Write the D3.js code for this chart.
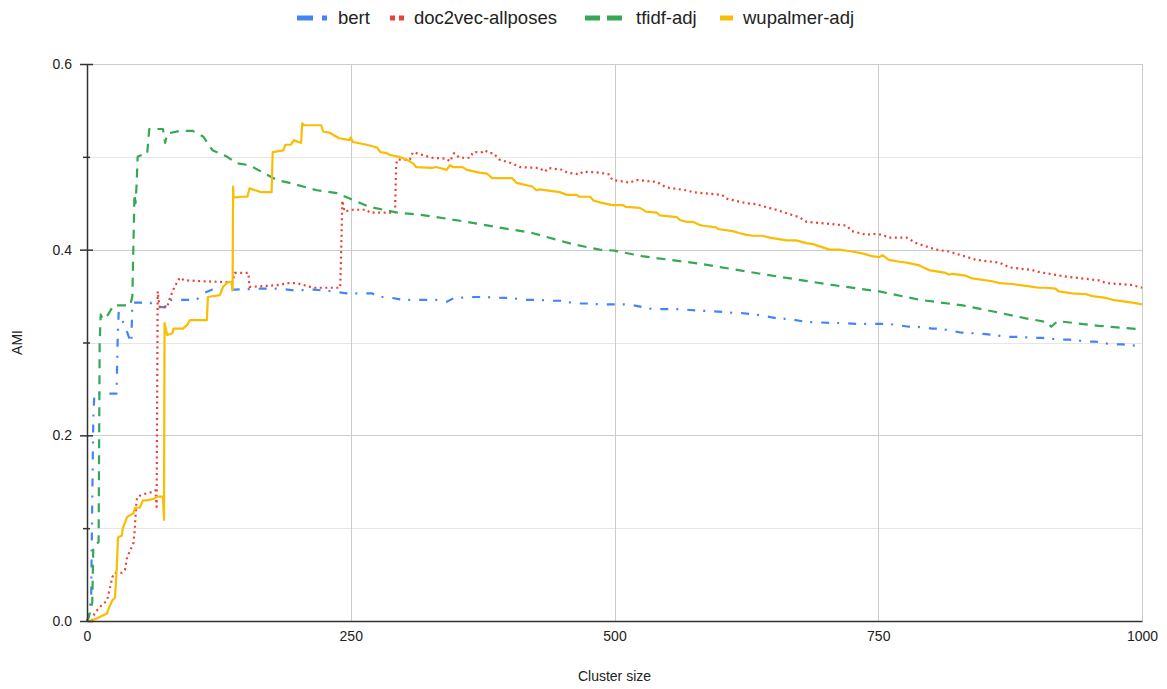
<!DOCTYPE html>
<html>
<head>
<meta charset="utf-8">
<script src="https://cdn.jsdelivr.net/npm/d3@7"></script>
<style>
  body { margin: 0; background: #fff; }
  svg { font-family: "Liberation Sans", Arial, sans-serif; }
</style>
</head>
<body>
<svg></svg>
<script>
const seriesNames = ["bert", "doc2vec-allposes", "tfidf-adj", "wupalmer-adj"];

const yTicks = [0, 0.1, 0.2, 0.3, 0.4, 0.5, 0.6];
const yLabels = ["0.0", "", "0.2", "", "0.4", "", "0.6"];
const xTicks = [0, 250, 500, 750, 1000];
const xLabels = ["0", "250", "500", "750", "1000"];

// [cluster size, AMI]
const bert = [
  [0, 0], [2, 0.005], [4, 0.03], [5, 0.13], [6, 0.22], [7, 0.245], [12, 0.245], [20, 0.245], [28, 0.245],
  [29, 0.3], [30, 0.332], [33, 0.325], [36, 0.318], [40, 0.305], [42, 0.3], [43, 0.343], [60, 0.343],
  [64, 0.338], [74, 0.338], [77, 0.346], [104, 0.346], [110, 0.353], [119, 0.357], [140, 0.357],
  [165, 0.358], [182, 0.358], [197, 0.356], [215, 0.357], [233, 0.355], [246, 0.353], [270, 0.353],
  [277, 0.349], [284, 0.349], [299, 0.346], [331, 0.346], [341, 0.344], [348, 0.348], [369, 0.349],
  [377, 0.349], [394, 0.348], [400, 0.348], [417, 0.346], [426, 0.346], [441, 0.345], [448, 0.345],
  [464, 0.342], [473, 0.342], [489, 0.341], [514, 0.341], [536, 0.336], [561, 0.336], [583, 0.334],
  [590, 0.334], [612, 0.332], [618, 0.332], [634, 0.33], [640, 0.329], [659, 0.325], [663, 0.326],
  [682, 0.322], [688, 0.322], [706, 0.321], [713, 0.321], [732, 0.32], [760, 0.32], [779, 0.317],
  [786, 0.317], [801, 0.315], [808, 0.315], [827, 0.311], [852, 0.309], [874, 0.306], [883, 0.306],
  [900, 0.305], [905, 0.305], [924, 0.303], [931, 0.303], [950, 0.301], [956, 0.301], [971, 0.298],
  [981, 0.298], [1000, 0.296]
];

const doc2vec = [
  [0, 0], [5, 0], [7, 0.008], [12, 0.015], [19, 0.022], [22, 0.037], [24, 0.047], [26, 0.052],
  [33, 0.052], [36, 0.055], [38, 0.069], [41, 0.076], [44, 0.084], [45, 0.095], [47, 0.13], [48, 0.134],
  [55, 0.137], [62, 0.139], [65, 0.141], [66, 0.123], [67, 0.355], [68, 0.345], [69, 0.338],
  [76, 0.338], [78, 0.346], [83, 0.36], [88, 0.37], [92, 0.367], [110, 0.366], [132, 0.365],
  [138, 0.365], [140, 0.375], [153, 0.375], [154, 0.36], [157, 0.36], [183, 0.362], [190, 0.364],
  [199, 0.364], [214, 0.359], [240, 0.359], [241, 0.4], [242, 0.453], [244, 0.441], [252, 0.443],
  [265, 0.443], [268, 0.44], [292, 0.44], [293, 0.491], [294, 0.497], [306, 0.497], [309, 0.505],
  [312, 0.504], [327, 0.499], [341, 0.498], [344, 0.495], [348, 0.504], [353, 0.499], [363, 0.499],
  [366, 0.505], [375, 0.505], [377, 0.507], [382, 0.504], [385, 0.504], [391, 0.497], [403, 0.493],
  [410, 0.489], [429, 0.488], [434, 0.484], [437, 0.488], [451, 0.486], [455, 0.483], [467, 0.481],
  [470, 0.484], [486, 0.483], [495, 0.481], [498, 0.475], [511, 0.473], [514, 0.472], [521, 0.475],
  [540, 0.473], [549, 0.467], [568, 0.464], [574, 0.462], [602, 0.459], [606, 0.455], [625, 0.45],
  [634, 0.449], [653, 0.443], [675, 0.435], [682, 0.43], [720, 0.426], [725, 0.42], [739, 0.416],
  [744, 0.417], [754, 0.416], [760, 0.413], [777, 0.413], [786, 0.407], [805, 0.4], [817, 0.398],
  [843, 0.389], [865, 0.386], [874, 0.381], [896, 0.378], [902, 0.376], [928, 0.371], [959, 0.367],
  [966, 0.364], [990, 0.362], [1000, 0.359]
];

const tfidf = [
  [0, 0], [3, 0.01], [5, 0.02], [6, 0.08], [11, 0.085], [12, 0.3], [13, 0.33], [15, 0.325],
  [20, 0.33], [25, 0.34], [41, 0.34], [43, 0.35], [45, 0.46], [46, 0.45], [47, 0.47], [48, 0.5],
  [52, 0.502], [57, 0.503], [59, 0.53], [72, 0.53], [74, 0.515], [76, 0.525], [88, 0.528],
  [100, 0.528], [110, 0.522], [119, 0.507], [133, 0.5], [142, 0.493], [154, 0.491], [167, 0.483],
  [180, 0.475], [192, 0.472], [218, 0.464], [237, 0.461], [249, 0.455], [268, 0.446], [294, 0.44],
  [320, 0.437], [360, 0.43], [390, 0.424], [422, 0.418], [460, 0.406], [486, 0.4], [500, 0.399],
  [526, 0.393], [580, 0.385], [644, 0.373], [706, 0.362], [751, 0.355], [789, 0.346], [830, 0.34],
  [865, 0.332], [890, 0.326], [910, 0.322], [914, 0.317], [920, 0.323], [959, 0.318], [1000, 0.314]
];

const wupalmer = [
  [0, 0], [6, 0.001], [19, 0.008], [20, 0.012], [24, 0.022], [26.5, 0.025], [28, 0.052], [29.4, 0.09],
  [33, 0.092], [34, 0.1], [38, 0.112], [41, 0.114], [44, 0.116], [45.5, 0.122], [50, 0.122],
  [53, 0.13], [57, 0.13], [64, 0.132], [66, 0.134], [72, 0.134], [73, 0.109], [73.5, 0.321],
  [76, 0.308], [81, 0.31], [82, 0.315], [91, 0.315], [95, 0.319], [97.5, 0.324], [113.6, 0.324],
  [114.6, 0.349], [126, 0.351], [129, 0.36], [133.5, 0.365], [137, 0.365], [138, 0.356], [138.5, 0.468],
  [139, 0.456], [146, 0.457], [152, 0.457], [154, 0.466], [165, 0.462], [175, 0.462], [176, 0.505],
  [186, 0.507], [188, 0.513], [193, 0.513], [196, 0.518], [203, 0.515], [204, 0.536], [206, 0.534],
  [222, 0.534], [224, 0.527], [230, 0.526], [239, 0.52], [249, 0.518], [250, 0.521], [252, 0.516],
  [265, 0.513], [275, 0.51], [278, 0.505], [284, 0.504], [287, 0.502], [296, 0.5], [303, 0.497],
  [309, 0.493], [312, 0.489], [327, 0.488], [331, 0.489], [341, 0.486], [344, 0.491], [347, 0.489],
  [356, 0.489], [360, 0.486], [372, 0.483], [379, 0.482], [384, 0.477], [403, 0.477], [407, 0.472],
  [422, 0.468], [426, 0.464], [429, 0.465], [448, 0.462], [455, 0.459], [464, 0.459], [467, 0.457],
  [477, 0.457], [480, 0.453], [486, 0.451], [498, 0.448], [508, 0.448], [511, 0.446], [524, 0.445],
  [530, 0.441], [540, 0.44], [543, 0.437], [559, 0.435], [562, 0.432], [568, 0.43], [574, 0.43],
  [580, 0.427], [583, 0.426], [596, 0.424], [599, 0.422], [612, 0.42], [618, 0.418], [625, 0.416],
  [631, 0.415], [640, 0.415], [647, 0.413], [663, 0.41], [672, 0.41], [682, 0.407], [688, 0.406],
  [704, 0.4], [713, 0.4], [725, 0.398], [735, 0.396], [744, 0.393], [751, 0.392], [754, 0.394],
  [760, 0.389], [770, 0.387], [777, 0.386], [789, 0.383], [798, 0.378], [814, 0.375], [817, 0.373],
  [820, 0.374], [833, 0.372], [839, 0.369], [858, 0.366], [865, 0.364], [877, 0.363], [890, 0.361],
  [902, 0.359], [909, 0.359], [918, 0.358], [921, 0.355], [934, 0.353], [947, 0.352], [953, 0.35],
  [966, 0.348], [972, 0.346], [991, 0.343], [1000, 0.341]
];

const seriesData = [bert, doc2vec, tfidf, wupalmer];
const colors = ["#4285f4", "#ea4335", "#34a853", "#fbbc04"];
const dashes = ["8,8,2,9", "2,3.5", "9,7", null];

const width = 1167;
const height = 689;
const margin = { left: 87, right: 25, top: 64, bottom: 68 };

let xScale;
let yScale;

const svg = d3.select("svg");

const drawCanvas = () => {
    svg.attr("width", width);
    svg.attr("height", height);
};

const generateScales = () => {
    xScale = d3.scaleLinear()
        .domain([0, 1000])
        .range([margin.left, width - margin.right]);
    yScale = d3.scaleLinear()
        .domain([0, 0.6])
        .range([height - margin.bottom, margin.top]);
};

//gridlines first so the series sit on top
const drawGrid = () => {
    const grid = svg.append("g").attr("class", "grid");
    grid.selectAll("line.h")
        .data(yTicks.slice(1))
        .enter()
        .append("line")
        .attr("x1", xScale(0))
        .attr("x2", xScale(1000))
        .attr("y1", (d) => Math.round(yScale(d)) + 0.5)
        .attr("y2", (d) => Math.round(yScale(d)) + 0.5)
        .attr("stroke", (d, i) => i % 2 === 1 ? "#cccccc" : "#e6e6e6")
        .attr("stroke-width", 1);
    grid.selectAll("line.v")
        .data(xTicks.slice(1))
        .enter()
        .append("line")
        .attr("x1", (d) => Math.round(xScale(d)) + 0.5)
        .attr("x2", (d) => Math.round(xScale(d)) + 0.5)
        .attr("y1", yScale(0.6))
        .attr("y2", yScale(0))
        .attr("stroke", "#cccccc")
        .attr("stroke-width", 1);
};

const generateAxes = () => {
    const xAxis = d3.axisBottom(xScale)
        .tickValues(xTicks)
        .tickFormat((d, i) => xLabels[i])
        .tickSize(0)
        .tickPadding(10);

    const yAxis = d3.axisLeft(yScale)
        .tickValues(yTicks)
        .tickFormat((d, i) => yLabels[i])
        .tickSize(0)
        .tickPadding(15);

    const gx = svg.append("g")
        .attr("id", "x-axis")
        .attr("transform", "translate(0, " + yScale(0) + ")")
        .call(xAxis);
    gx.select(".domain").attr("stroke", "#333").attr("stroke-width", 1.5);
    gx.selectAll("text").attr("font-size", 14).attr("fill", "#222");

    const gy = svg.append("g")
        .attr("id", "y-axis")
        .attr("transform", "translate(" + xScale(0) + ", 0)")
        .call(yAxis);
    gy.select(".domain").attr("stroke", "#333").attr("stroke-width", 1.5);
    gy.selectAll("text").attr("font-size", 14).attr("fill", "#222");
    //major ticks cross the axis, minor ones are shorter
    gy.selectAll(".tick line")
        .attr("x1", (d, i) => i % 2 === 0 ? -7 : -4)
        .attr("x2", (d, i) => i % 2 === 0 ? 6 : 3)
        .attr("stroke", "#333")
        .attr("stroke-width", 1.5);

    svg.append("text")
        .attr("transform", "translate(22, " + yScale(0.3) + ") rotate(-90)")
        .attr("text-anchor", "middle")
        .attr("font-size", 14)
        .attr("fill", "#222")
        .text("AMI");

    svg.append("text")
        .attr("x", xScale(500))
        .attr("y", 681)
        .attr("text-anchor", "middle")
        .attr("font-size", 14)
        .attr("fill", "#222")
        .text("Cluster size");
};

const drawLines = () => {
    const line = d3.line()
        .x((d) => xScale(d[0]))
        .y((d) => yScale(d[1]));

    svg.append("g")
        .selectAll("path")
        .data(seriesData)
        .enter()
        .append("path")
        .attr("d", line)
        .attr("fill", "none")
        .attr("stroke", (d, i) => colors[i])
        .attr("stroke-width", 2.2)
        .attr("stroke-dasharray", (d, i) => dashes[i])
        .attr("stroke-linejoin", "round");
};

const drawLegend = () => {
    const legendX = [297, 390, 585, 720];
    const textX = [338, 414, 636, 743];
    const symbolW = [30, 14, 37, 13];
    const symbolDash = ["16,9,5,9", "5,4", "15,7", null];
    const legend = svg.append("g").attr("id", "legend");
    seriesNames.forEach((name, i) => {
        legend.append("line")
            .attr("x1", legendX[i])
            .attr("x2", legendX[i] + symbolW[i])
            .attr("y1", 18)
            .attr("y2", 18)
            .attr("stroke", colors[i])
            .attr("stroke-width", 5)
            .attr("stroke-dasharray", symbolDash[i]);
        legend.append("text")
            .attr("x", textX[i])
            .attr("y", 24)
            .attr("font-size", 18.5)
            .attr("fill", "#222")
            .text(name);
    });
};

drawCanvas();
generateScales();
drawGrid();
drawLines();
generateAxes();
drawLegend();
</script>
</body>
</html>
